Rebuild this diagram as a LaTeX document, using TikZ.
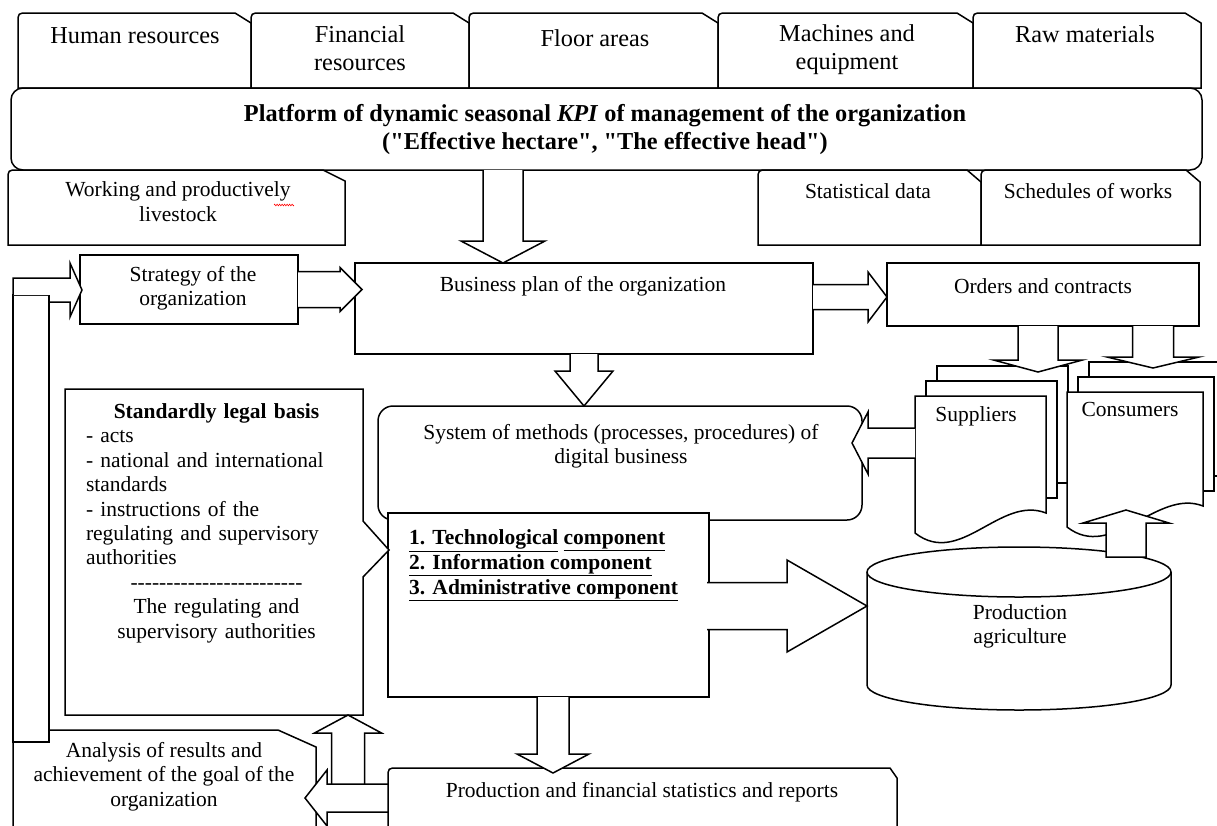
\documentclass[tikz,border=0pt]{standalone}
\usepackage{fontspec}
\setmainfont{Liberation Serif}[Ligatures=TeXOff]
\usetikzlibrary{calc,positioning,decorations.pathmorphing}
\setlength{\parindent}{0pt}

\tikzstyle{frame}=[draw=black, line width=1.5pt, fill=white, line join=miter]
\tikzstyle{area}=[inner sep=0pt, outer sep=0pt, anchor=north west]
\tikzstyle{txt}=[inner sep=0pt, align=center, font=\fontsize{21.5}{24.4}\selectfont, execute at begin node=\strut, execute at end node=\strut]
\tikzstyle{bigtxt}=[txt, font=\fontsize{24.3}{28}\selectfont]
\tikzstyle{boldtxt}=[txt, font=\bfseries\fontsize{21.5}{25}\selectfont]

% outline with rounded top left and cut top right corner
\newcommand{\tabframe}[3]{%
  \draw[frame] (#1.south west) -- ($(#1.north west)+(0,10)$) .. controls (#1.north west) .. ($(#1.north west)+(10,0)$)
    -- ($(#1.north east)+(-#2,0)$) -- ($(#1.north east)+(0,#3)$) -- (#1.south east) -- cycle;}

% wide arrow: [end] from, to, shaft half width, head half width, head length
\newcommand{\blockarrow}[6][]{%
  \coordinate (ahb) at ($(#3)!#6!(#2)$);
  \draw[frame] ($(#2)!#4!90:(#3)$) -- ($(ahb)!#4!-90:(#2)$) -- ($(ahb)!#5!-90:(#2)$) -- (#3)
    -- ($(ahb)!#5!90:(#2)$) -- ($(ahb)!#4!90:(#2)$) -- ($(#2)!#4!-90:(#3)$) #1;}

\begin{document}
\begin{tikzpicture}[x=1pt, y=-1pt]
    \useasboundingbox (0,0) rectangle (1217,825);
    \clip (0,0) rectangle (1217,825);

    % Resources along the top
    \foreach \name/\x/\w in {tabhr/18/233, tabfin/251/218, tabfloor/469/249, tabmach/718/255, tabraw/973/228}{
        \node[area, minimum width=\w, minimum height=75] (\name) at (\x,13) {};
        \tabframe{\name}{16}{10}
    }
    \foreach \name/\pos/\txt in {hr/{(135,38)}/{Human resources}, fin/{(360,52)}/{Financial\\resources},
        floor/{(595,41)}/{Floor areas}, mach/{(847,51)}/{Machines and\\equipment}, raw/{(1085,37)}/{Raw materials}}
        \node[bigtxt] (\name) at \pos {\txt};

    % KPI platform
    \node[area, frame, rounded corners=12pt, minimum width=1191, minimum height=82] (plat) at (11,88) {};
    \node[bigtxt, font=\bfseries\fontsize{24.3}{28}\selectfont] (plattxt) at (605,131)
        {Platform of dynamic seasonal \textit{KPI} of management of the organization\\("Effective hectare", "The effective head")};

    \foreach \name/\x/\w/\sx/\sy in {work/8/337/22/11, stat/758/223/14/12, sched/981/219/14/12}{
        \node[area, minimum width=\w, minimum height=75] (\name) at (\x,170) {};
        \tabframe{\name}{\sx}{\sy}
    }
    \node[txt] (worktxt) at (178,205) {Working and productively\\livestock};
    \draw[red, line width=0.6pt, decorate, decoration={zigzag, amplitude=0.8pt, segment length=2.5pt}] (274,205) -- (294,205);
    \node[txt] (stattxt) at (868,194) {Statistical data};
    \node[txt] (schedtxt) at (1088,194) {Schedules of works};

    % Planning row
    \node[area, frame, minimum width=218, minimum height=69] (strat) at (80,255) {};
    \node[area, frame, minimum width=458, minimum height=91] (bplan) at (355,263) {};
    \node[area, frame, minimum width=312, minimum height=63] (orders) at (887,263) {};
    \node[txt] (strattxt) at (193,289.5) {Strategy of the\\organization};
    \node[txt] (bplantxt) at (583,287) {Business plan of the organization};
    \node[txt] (orderstxt) at (1043,289) {Orders and contracts};

    \blockarrow{plat.south -| 503,0}{bplan.north -| 503,0}{20pt}{42pt}{22pt}
    \blockarrow{strat.east}{$(strat.east -| bplan.west)+(7,0)$}{18pt}{22pt}{22pt}
    \blockarrow{bplan.east |- 0,297}{orders.west |- 0,297}{12.5pt}{25pt}{19pt}

    % Methods and components
    \node[area, frame, rounded corners=15pt, minimum width=484, minimum height=114] (sys) at (378,406) {};
    \node[txt] (systxt) at (621,447.5) {System of methods (processes, procedures) of\\digital business};
    \blockarrow{bplan.south -| 584,0}{sys.north -| 584,0}{14pt}{29pt}{35pt}

    \node[area, frame, minimum width=321, minimum height=184] (comp) at (388,513) {};
    \node[boldtxt, anchor=west, align=left] (comptxt) at (409,566)
        {\underline{1. Technological} \underline{component}\\\underline{2. Information component}\\\underline{3. Administrative component}};

    % Legal basis with callout
    \node[area, minimum width=298, minimum height=326] (legal) at (65,389) {};
    \draw[frame] (legal.north west) -- (legal.north east) -- ($(legal.north east)+(0,132)$) -- ($(legal.north east)+(26,161)$)
        -- ($(legal.north east)+(0,188)$) -- (legal.south east) -- (legal.south west) -- cycle;
    \node[txt, align=left, text width=261pt] (legaltxt) at (216.5,523.5) {%
        \makebox[261pt][c]{\textbf{Standardly legal basis}}\\
        - acts\\
        \makebox[261pt][s]{- national and international}\\
        standards\\
        \makebox[261pt][s]{- instructions of the}\\
        \makebox[261pt][s]{regulating and supervisory}\\
        authorities\\
        \makebox[261pt][c]{------------------------}\\
        \makebox[261pt][c]{The regulating and}\\
        \makebox[261pt][c]{supervisory authorities}};

    % Suppliers and consumers (stacked documents)
    \node[area, minimum width=131, minimum height=117] (supp) at (915,396) {};
    \node[area, minimum width=136, minimum height=114] (cons) at (1067,392) {};
    \foreach \doc/\drop in {supp/20, cons/21}{
        \foreach \dx/\dy in {22/30, 11/15}
            \draw[frame] ($(\doc.north west)+(\dx,-\dy)$) rectangle ($(\doc.south east)+(\dx,-\dy)$);
        \draw[frame] (\doc.south east) -- (\doc.north east) -- (\doc.north west) -- ($(\doc.south west)+(0,\drop)$)
            .. controls +(45,35) and +(-46,-18) .. (\doc.south east) -- cycle;
    }
    \node[txt] (supptxt) at (976,417) {Suppliers};
    \node[txt] (constxt) at (1130,412) {Consumers};

    \coordinate (suppin) at (1038,372);
    \coordinate (consin) at (1153,368);
    \blockarrow{orders.south -| suppin}{suppin}{20pt}{44.5pt}{12pt}
    \blockarrow{orders.south -| consin}{consin}{20.5pt}{46pt}{11pt}
    \blockarrow{supp.west |- 0,443}{$(sys.east |- 0,443)+(-10,0)$}{15pt}{31pt}{16pt}

    % Production agriculture
    \node[area, minimum width=304, minimum height=163] (cyl) at (867,547) {};
    \draw[frame] ($(cyl.north west)+(0,25)$) -- ($(cyl.south west)+(0,-25)$) .. controls +(0,14) and +(-84,0) .. (cyl.south)
        .. controls +(84,0) and +(0,14) .. ($(cyl.south east)+(0,-25)$) -- ($(cyl.north east)+(0,25)$)
        .. controls +(0,-14) and +(84,0) .. (cyl.north) .. controls +(-84,0) and +(0,-14) .. cycle;
    \draw[frame, fill=none] ($(cyl.north west)+(0,25)$) .. controls +(0,14) and +(-84,0) .. ($(cyl.north)+(0,50)$)
        .. controls +(84,0) and +(0,14) .. ($(cyl.north east)+(0,25)$);
    \node[txt] (cyltxt) at (1020,627.5) {Production\\agriculture};
    \blockarrow{$(comp.east |- 0,606)+(-2,0)$}{cyl.west |- 0,606}{23.5pt}{46pt}{80pt}
    \coordinate (consout) at (1126,510);
    \blockarrow[-- cycle]{1126,557}{consout}{20pt}{43pt}{13pt}

    % Feedback loop
    \node[area, minimum width=303, minimum height=100] (anal) at (13,730) {};
    \tabframe{anal}{38}{17}
    \node[txt] (analtxt) at (164,778) {Analysis of results and\\achievement of the goal of the\\organization};
    \node[area, frame, minimum width=36, minimum height=447] (loopbar) at (13,295) {};
    \draw[frame] (loopbar.north west) -- ++(0,-17) -- ++(57,0) -- ++(0,-15) -- ++(12,27) -- ++(-12,27) -- ++(0,-15)
        -- (loopbar.north east |- 0,302) -- (loopbar.north east);

    % Statistics and reports
    \node[area, minimum width=509, minimum height=62] (prod) at (388,768) {};
    \blockarrow{348,790}{legal.south -| 348,0}{16.5pt}{33.5pt}{18pt}
    \blockarrow{prod.west |- 0,798}{305,798}{14pt}{28pt}{22pt}
    \tabframe{prod}{7}{10}
    \node[txt] (prodtxt) at (642,793) {Production and financial statistics and reports};
    \blockarrow{comp.south -| 553,0}{553,773}{16pt}{36pt}{19pt}
\end{tikzpicture}
\end{document}
